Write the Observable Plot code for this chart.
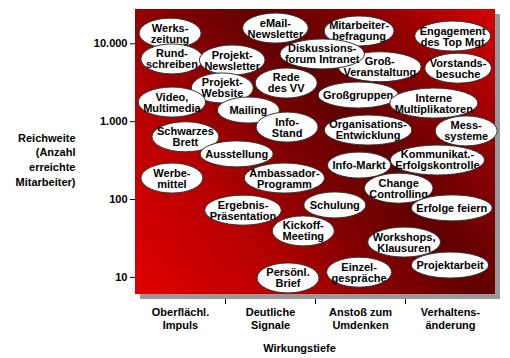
<!DOCTYPE html>
<html><head><meta charset="utf-8">
<script src="https://cdn.jsdelivr.net/npm/d3@7"></script>
<script src="https://cdn.jsdelivr.net/npm/@observablehq/plot@0.6"></script>
<style>body{margin:0;background:#fff;}</style>
</head><body><div id="chart"></div>
<script>
// Maßnahmen (labels), Wirkungstiefe (0–4 category units), Reichweite (Anzahl Mitarbeiter)
const measures = [
  "Werks-\nzeitung", "Rund-\nschreiben", "eMail-\nNewsletter", "Projekt-\nNewsletter",
  "Mitarbeiter-\nbefragung", "Engagement\ndes Top Mgt", "Groß-\nVeranstaltung",
  "Diskussions-\nforum Intranet", "Vorstands-\nbesuche", "Projekt-\nWebsite", "Video,\nMultimedia",
  "Rede\ndes VV", "Mailing", "Großgruppen", "Interne\nMultiplikatoren", "Info-\nStand",
  "Schwarzes\nBrett", "Organisations-\nEntwicklung", "Mess-\nsysteme", "Ausstellung",
  "Info-Markt", "Kommunikat.-\nErfolgskontrolle", "Werbe-\nmittel", "Ambassador-\nProgramm",
  "Change\nControlling", "Ergebnis-\nPräsentation", "Schulung", "Erfolge feiern",
  "Kickoff-\nMeeting", "Workshops,\nKlausuren", "Projektarbeit", "Einzel-\ngespräche",
  "Persönl.\nBrief"
];
const depth = [
  0.39, 0.41, 1.56, 1.08,
  2.49, 3.53, 2.72,
  2.08, 3.59, 0.97, 0.41,
  1.68, 1.26, 2.48, 3.32, 1.69,
  0.56, 2.59, 3.68, 1.13,
  2.49, 3.36, 0.41, 1.66,
  2.93, 1.20, 2.22, 3.52,
  1.87, 2.99, 3.50, 2.49,
  1.70
];
const reach = [
  13500, 6300, 15700, 6100,
  14400, 12400, 5000,
  7300, 4800, 2670, 1760,
  3090, 1390, 2170, 1710, 840,
  630, 770, 750, 380,
  273, 317, 186, 186,
  138, 72, 84, 77,
  39, 28, 14.2, 11.5,
  9.7
];
const depthCategories = ["Oberflächl.\nImpuls", "Deutliche\nSignale", "Anstoß zum\nUmdenken", "Verhaltens-\nänderung"];
const depthTicks = [1, 2, 3];
const reachTicks = [10, 100, 1000, 10000];
const yTitle = "Reichweite\n(Anzahl\nerreichte\nMitarbeiter)";
const xTitle = "Wirkungstiefe";

const items = measures.map((label, i) => ({label, x: depth[i], y: reach[i]}));
const FONT = "Arial, 'Liberation Sans', sans-serif";
const ctx = document.createElement("canvas").getContext("2d");
ctx.font = "bold 11px Arial, 'Liberation Sans', sans-serif";

function background(index, scales, values, dims) {
  const L = dims.marginLeft, R = dims.width - dims.marginRight;
  const T = dims.marginTop, B = dims.height - dims.marginBottom;
  const g = d3.create("svg:g");
  const grad = g.append("defs").append("linearGradient")
    .attr("id", "bggrad").attr("gradientUnits", "userSpaceOnUse")
    .attr("x1", L).attr("y1", B).attr("x2", R).attr("y2", T);
  [[0, "#e30000"], [0.28, "#b40000"], [0.45, "#800000"], [0.6, "#600000"], [0.78, "#8a0000"], [1, "#d80000"]]
    .forEach(([o, c]) => grad.append("stop").attr("offset", o).attr("stop-color", c));
  g.append("rect").attr("x", L + 5).attr("y", T + 5).attr("width", R - L).attr("height", B - T).attr("fill", "#999");
  g.append("rect").attr("x", L).attr("y", T).attr("width", R - L).attr("height", B - T).attr("fill", "url(#bggrad)");
  return g.node();
}

function ellipses(index, scales) {
  const g = d3.create("svg:g")
    .attr("font-family", FONT).attr("font-size", 11).attr("font-weight", "bold");
  for (const d of items) {
    const cx = scales.x(d.x), cy = scales.y(d.y);
    const lines = d.label.split("\n");
    const w = d3.max(lines, l => ctx.measureText(l).width);
    const rx = Math.max(31, w / 2 + 5), ry = 11 + 2 * lines.length;
    const gi = g.append("g");
    gi.append("ellipse").attr("cx", cx).attr("cy", cy).attr("rx", rx).attr("ry", ry)
      .attr("fill", "white").attr("stroke", "#333").attr("stroke-width", 1);
    lines.forEach((l, j) => {
      gi.append("text").attr("x", cx).attr("y", cy + (j - (lines.length - 1) / 2) * 11)
        .attr("dy", "0.36em").attr("text-anchor", "middle").attr("fill", "black").text(l);
    });
  }
  return g.node();
}

const plot = Plot.plot({
  width: 510,
  height: 358,
  marginLeft: 135,
  marginRight: 15,
  marginTop: 9,
  marginBottom: 64,
  style: {fontFamily: FONT, fontSize: "11px", fontWeight: "bold", color: "black", background: "white", overflow: "visible"},
  x: {domain: [0, 4], ticks: depthTicks, tickFormat: () => "", tickSize: 10, label: null},
  y: {type: "log", domain: [6.03, 27600], range: [294, 9], ticks: reachTicks,
      tickFormat: d => d3.format(",")(d).replace(/,/g, "."), tickSize: 5, tickPadding: 3, label: null},
  marks: [
    background,
    Plot.dot(items, {x: "x", y: "y", r: 0, fill: "none", stroke: "none"}),
    ellipses,
    Plot.text(depthCategories, {x: (d, i) => i + 0.5, frameAnchor: "bottom", lineAnchor: "top", dy: 13,
      fontWeight: "bold", fontSize: 11, lineHeight: 1.13, fill: "black"}),
    Plot.text([yTitle], {frameAnchor: "left", textAnchor: "end", lineAnchor: "middle", dx: -60, dy: 7,
      lineHeight: 1.33, fontWeight: "bold", fontSize: 11, fill: "black"}),
    Plot.text([xTitle], {frameAnchor: "bottom", lineAnchor: "middle", dx: -16, dy: 54,
      fontWeight: "bold", fontSize: 11, fill: "black"})
  ]
});
document.getElementById("chart").appendChild(plot);
</script>
</body></html>
